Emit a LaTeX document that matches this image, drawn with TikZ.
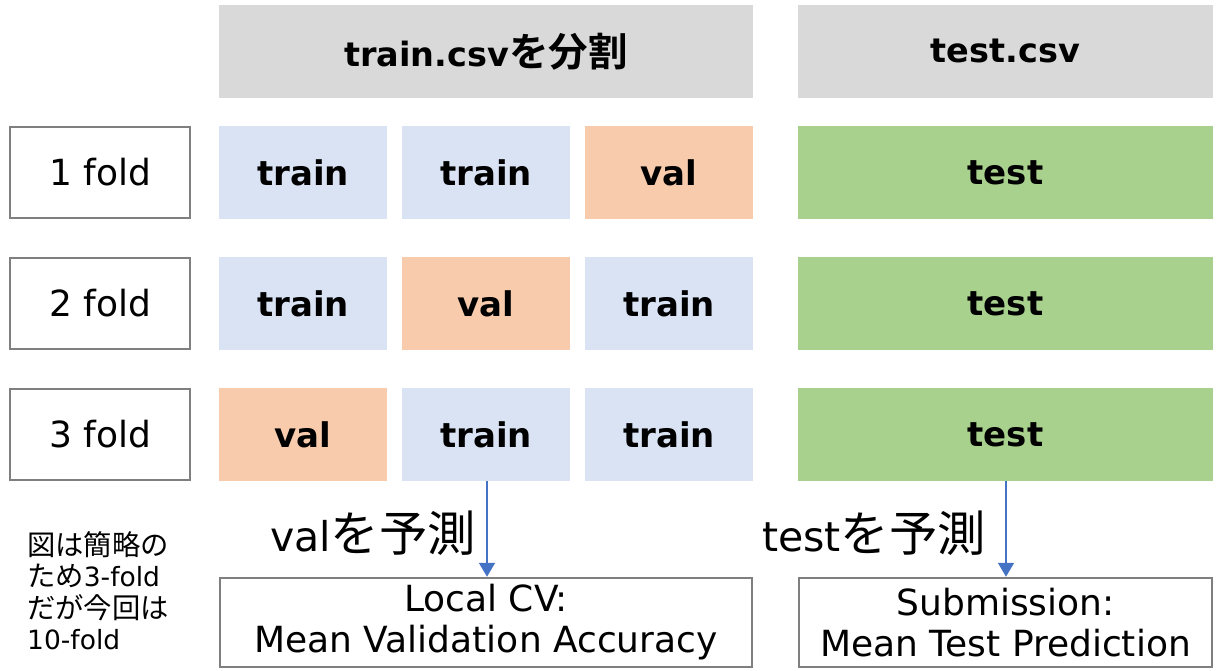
\documentclass[tikz,border=0pt]{standalone}
\usepackage{fontspec}
\setmainfont{DejaVu Sans}
\newfontfamily\jp{Noto Sans CJK JP}[Scale=1.18, BoldFont={Noto Sans CJK JP Bold}]
\usetikzlibrary{arrows.meta}
\definecolor{hdr}{HTML}{D9D9D9}
\definecolor{trn}{HTML}{DAE3F3}
\definecolor{vl}{HTML}{F8CBAD}
\definecolor{tst}{HTML}{A9D18E}
\definecolor{bord}{HTML}{7F7F7F}
\definecolor{arr}{HTML}{4472C4}
\tikzset{
  cell/.style={inner sep=0pt, minimum height=93pt, font=\fontsize{34}{40}\selectfont\bfseries},
  small/.style={cell, minimum width=168pt},
  wide/.style={cell, minimum width=415pt},
  hdrbox/.style={cell, fill=hdr, font=\fontsize{33.5}{36}\selectfont\bfseries},
  foldbox/.style={draw=bord, line width=2.5pt, fill=white, inner sep=0pt, minimum width=180pt, minimum height=91pt, font=\fontsize{36}{40}\selectfont},
  resbox/.style={draw=bord, line width=2.5pt, fill=white, inner sep=0pt, minimum height=89pt, align=center, font=\fontsize{36}{41}\selectfont},
  flow/.style={draw=arr, line width=1.8pt, -{Triangle[length=14pt,width=16pt]}},
  lbl/.style={font=\fontsize{41}{48}\selectfont, inner sep=0pt},
}
\newcommand{\nj}[1]{{\fontsize{24}{31.5}\selectfont\jp #1}}
\begin{document}
\begin{tikzpicture}[x=1pt,y=-1pt]
\useasboundingbox[fill=white] (0,0) rectangle (1218,671);
% headers
\node[hdrbox, minimum width=534pt] (h1) at (486,51.5) {\raisebox{2pt}{train.csv{\jp を分割}}};
\node[hdrbox, minimum width=415pt] (h2) at (1005.5,51.5) {\raisebox{2pt}{test.csv}};
% fold labels
\node[foldbox] (f1) at (100,172.5) {1 fold};
\node[foldbox] (f2) at (100,303.5) {2 fold};
\node[foldbox] (f3) at (100,434.5) {3 fold};
% row 1
\node[small, fill=trn] (a1) at (303,172.5) {train};
\node[small, fill=trn] (b1) at (486,172.5) {train};
\node[small, fill=vl]  (c1) at (669,172.5) {val};
\node[wide, fill=tst]  (t1) at (1005.5,172.5) {test};
% row 2
\node[small, fill=trn] (a2) at (303,303.5) {train};
\node[small, fill=vl]  (b2) at (486,303.5) {val};
\node[small, fill=trn] (c2) at (669,303.5) {train};
\node[wide, fill=tst]  (t2) at (1005.5,303.5) {test};
% row 3
\node[small, fill=vl]  (a3) at (303,434.5) {val};
\node[small, fill=trn] (b3) at (486,434.5) {train};
\node[small, fill=trn] (c3) at (669,434.5) {train};
\node[wide, fill=tst]  (t3) at (1005.5,434.5) {test};
% result boxes
\node[resbox, minimum width=532pt] (r1) at (486,622.5) {Local CV:\\Mean Validation Accuracy};
\node[resbox, minimum width=413pt] (r2) at (1005.5,622.5) {Submission:\\Mean Test Prediction};
% arrows
\coordinate (s1) at ([xshift=1pt]b3.south);
\coordinate (s2) at ([xshift=0.5pt]t3.south);
\draw[flow] (s1) -- (s1 |- r1.north);
\draw[flow] (s2) -- (s2 |- r2.north);
% labels
\node[lbl] (l1) at (373,533) {val{\jp を予測}};
\node[lbl] (l2) at (874,533) {test{\jp を予測}};
\node[align=left, inner sep=0pt, font=\fontsize{26.5}{31.5}\selectfont, anchor=north west] (note) at (27,531) {\nj{図は簡略の}\\\nj{ため}3-fold\\\nj{だが今回は}\\10-fold};
\end{tikzpicture}
\end{document}
